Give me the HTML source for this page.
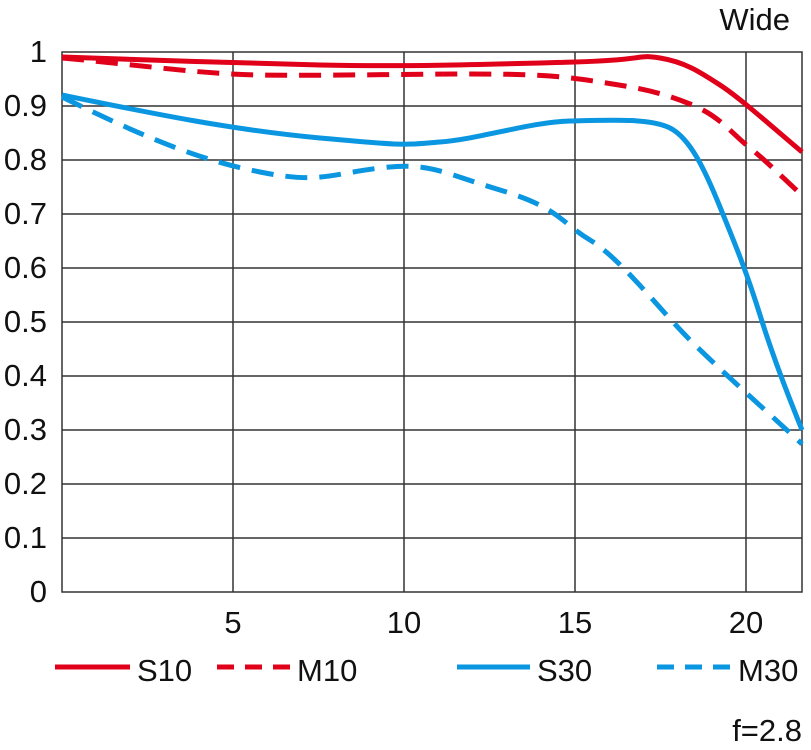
<!DOCTYPE html>
<html><head><style>body{margin:0;background:#fff}svg{display:block}text{font-family:"Liberation Sans",sans-serif;font-size:31px;fill:#111}</style></head><body>
<svg width="811" height="750" viewBox="0 0 811 750">
<g stroke="#333" stroke-width="1.5" fill="none">
<rect x="62" y="52" width="740" height="540"/>
<path d="M62 106H802M62 160H802M62 214H802M62 268H802M62 322H802M62 376H802M62 430H802M62 484H802M62 538H802M233 52V592M404 52V592M575 52V592M746 52V592"/>
</g>
<g text-anchor="end">
<text x="47" y="62">1</text><text x="47" y="116">0.9</text><text x="47" y="170">0.8</text><text x="47" y="224">0.7</text><text x="47" y="278">0.6</text><text x="47" y="332">0.5</text><text x="47" y="386">0.4</text><text x="47" y="440">0.3</text><text x="47" y="494">0.2</text><text x="47" y="548">0.1</text><text x="47" y="602">0</text>
</g>
<g text-anchor="middle">
<text x="233" y="633">5</text><text x="404" y="633">10</text><text x="575" y="633">15</text><text x="746" y="633">20</text>
</g>
<text x="790" y="30" text-anchor="end">Wide</text>
<text x="802" y="741" text-anchor="end">f=2.8</text>
<g fill="none" stroke-width="5">
<path stroke="#e0001a" d="M62 57C150 60 232 63 320 65S500 64 575 62S635 54 660 58S700 72 720 85S770 125 802 152"/>
<path stroke="#e0001a" stroke-dasharray="22 12" d="M62 58C150 66 200 74 260 75S400 74 470 74S560 76 600 82S660 92 690 104S730 132 750 148S790 185 802 195"/>
<path stroke="#0a96e0" d="M62 95C150 113 232 130 320 138S400 145 440 142S530 122 570 121S650 118 670 128S705 170 720 207S746 270 760 315S790 400 802 430"/>
<path stroke="#0a96e0" stroke-dasharray="22 12" d="M62 97C150 140 200 160 260 172S330 174 380 168S440 172 500 190S560 222 590 240S660 310 690 340S760 405 802 444"/>
</g>
<g stroke-width="5">
<path stroke="#e0001a" d="M55 667H130"/>
<path stroke="#e0001a" stroke-dasharray="17 11" d="M217 667H290"/>
<path stroke="#0a96e0" d="M457 667H530"/>
<path stroke="#0a96e0" stroke-dasharray="17 11" d="M657 667H730"/>
</g>
<text x="137" y="681">S10</text><text x="297" y="681">M10</text><text x="537" y="681">S30</text><text x="738" y="681">M30</text>
</svg>
</body></html>
